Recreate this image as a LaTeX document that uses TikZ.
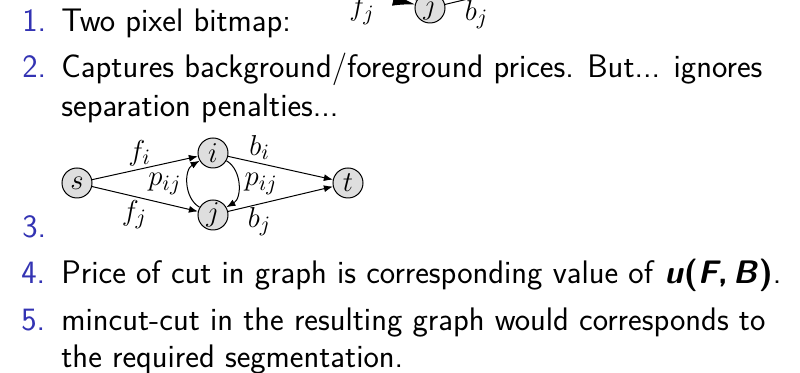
\documentclass[tikz,border=0pt]{standalone}
\usepackage{tikz}
\usetikzlibrary{arrows.meta}
\definecolor{itemblue}{RGB}{51,51,179}
\definecolor{vertexgray}{RGB}{222,222,222}

\tikzset{
  vertex/.style={circle,draw,fill=vertexgray,line width=0.5pt,minimum size=15pt,
    inner sep=0pt,font=\fontsize{15.5}{18}\selectfont},
  edge/.style={line width=0.5pt,-{Latex[length=4.5pt,width=3.5pt]}},
  bigedge/.style={line width=0.5pt,-{Latex[length=11pt,width=6.5pt]}},
  lbl/.style={font=\fontsize{15.5}{18}\selectfont,inner sep=1.5pt},
  num/.style={anchor=base west,inner sep=0pt,text=itemblue,font=\fontsize{16.3}{19}\sffamily},
  txt/.style={anchor=base west,inner sep=0pt,font=\fontsize{16.3}{19}\sffamily},
}

\begin{document}
\begin{tikzpicture}[x=0.5pt,y=-0.5pt]
\useasboundingbox (0,0) rectangle (800,373);
\clip (0,0) rectangle (800,373);

% graph of item 1, mostly above the page
\begin{scope}[shift={(217,-207)}]
\node[vertex] (s0) at (77,183) {$s$};
\node[vertex] (i0) at (213,153) {$i$};
\node[vertex] (j0) at (213,215) {$j$};
\node[vertex] (t0) at (348,183) {$t$};
\draw[bigedge] (s0) -- node[lbl,above,pos=0.45] (fi0) {$f_i$} (i0);
\draw[bigedge] (s0) -- node[lbl,below,pos=0.5] (fj0) {$f_j$} (j0);
\draw[line width=0.5pt] (i0) -- node[lbl,above,pos=0.3] (bi0) {$b_i$} (t0);
\draw[line width=0.5pt] (j0) -- node[lbl,below,pos=0.3] (bj0) {$b_j$} (t0);
\draw[bigedge] (i0) to[bend left=60] (j0);
\draw[bigedge] (j0) to[bend left=60] (i0);
\end{scope}

% items
\node[num] (n1) at (22,32) {1.};
\node[txt] (item1) at (61,32) {Two pixel bitmap:};
\node[num] (n2) at (22,78) {2.};
\node[txt] (item2) at (61,78) {Captures background/foreground prices. But... ignores};
\node[txt] (item2b) at (61,117) {separation penalties...};
\node[num] (n3) at (22,238) {3.};
\node[num] (n4) at (21,284) {4.};
\node[txt] (item4) at (61,284) {Price of cut in graph is corresponding value of
  \textbf{\textsl{u}(\textsl{F},\,\textsl{B})}.};
\node[num] (n5) at (21,331) {5.};
\node[txt] (item5) at (61,331) {mincut-cut in the resulting graph would corresponds to};
\node[txt] (item5b) at (61,368) {the required segmentation.};

% graph of item 3
\node[vertex] (s) at (77,183) {$s$};
\node[vertex] (i) at (213,153) {$i$};
\node[vertex] (j) at (213,215) {$j$};
\node[vertex] (t) at (348,183) {$t$};
\draw[edge] (s) -- node[lbl,above,pos=0.45] (fi) {$f_i$} (i);
\draw[edge] (s) -- node[lbl,below,pos=0.4] (fj) {$f_j$} (j);
\draw[edge] (i) -- node[lbl,above,pos=0.3] (bi) {$b_i$} (t);
\draw[edge] (j) -- node[lbl,below,pos=0.3] (bj) {$b_j$} (t);
\draw[edge] (i) to[bend left=60] node[lbl,right,inner sep=3pt] (pr) {$p_{ij}$} (j);
\draw[edge] (j) to[bend left=60] node[lbl,left,inner sep=3pt] (pl) {$p_{ij}$} (i);
\end{tikzpicture}
\end{document}
